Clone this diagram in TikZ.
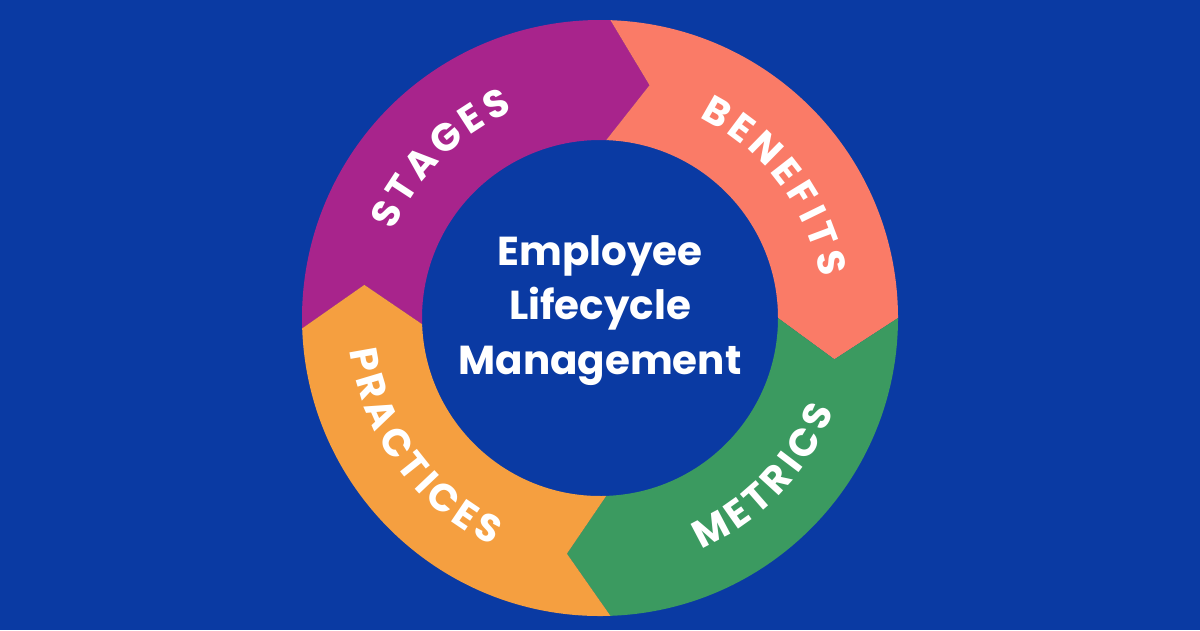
\documentclass[tikz,border=0pt]{standalone}
\usepackage{fontspec}
\setmainfont{Poppins}
\newfontfamily\pbold{Poppins Bold}
\usetikzlibrary{decorations.text}
\definecolor{bg}{HTML}{0A3AA3}
\definecolor{cpur}{HTML}{A8248C}
\definecolor{csal}{HTML}{FA7B67}
\definecolor{cgrn}{HTML}{3B9A60}
\definecolor{corg}{HTML}{F59F40}
\tikzset{
  lbl/.style={decorate,decoration={text along path,text align=center,
     text={|\pbold\fontsize{22}{22}\selectfont\fontdimen2\font=2.6pt\color{white}|#1}}}
}
\newcommand{\ringseg}[3]{% start angle, end angle, colour
  \fill[#3] (#1:5.96) arc[start angle=#1,end angle=#2,radius=5.96]
    -- ({#2-10}:4.76) -- (#2:3.56) arc[start angle=#2,end angle=#1,radius=3.56]
    -- ({#1-10}:4.76) -- cycle;}
\begin{document}
\begin{tikzpicture}
\fill[bg] (0,0) rectangle (24,12.6);
\useasboundingbox (0,0) rectangle (24,12.6);
\begin{scope}[shift={(12,6.24)}]
\ringseg{182}{88}{cpur}
\ringseg{88}{0}{csal}
\ringseg{0}{-88}{cgrn}
\ringseg{-88}{-178}{corg}
\node[coordinate] (c) at (0,0) {};
\path[lbl=S T A G E S] (175:4.48) arc[start angle=175,end angle=95,radius=4.48];
\path[lbl=B E N E F I T S] (86:4.48) arc[start angle=86,end angle=-12,radius=4.48];
\path[lbl=M E T R I C S] (-94:5.04) arc[start angle=-94,end angle=6,radius=5.04];
\path[lbl=P R A C T I C E S] (159:5.04) arc[start angle=159,end angle=273,radius=5.04];
\node[font=\pbold\fontsize{23}{31}\selectfont, text=white, align=center] (title) at (0,0.15)
  {Employee\\Lifecycle\\Management};
\end{scope}
\end{tikzpicture}
\end{document}
